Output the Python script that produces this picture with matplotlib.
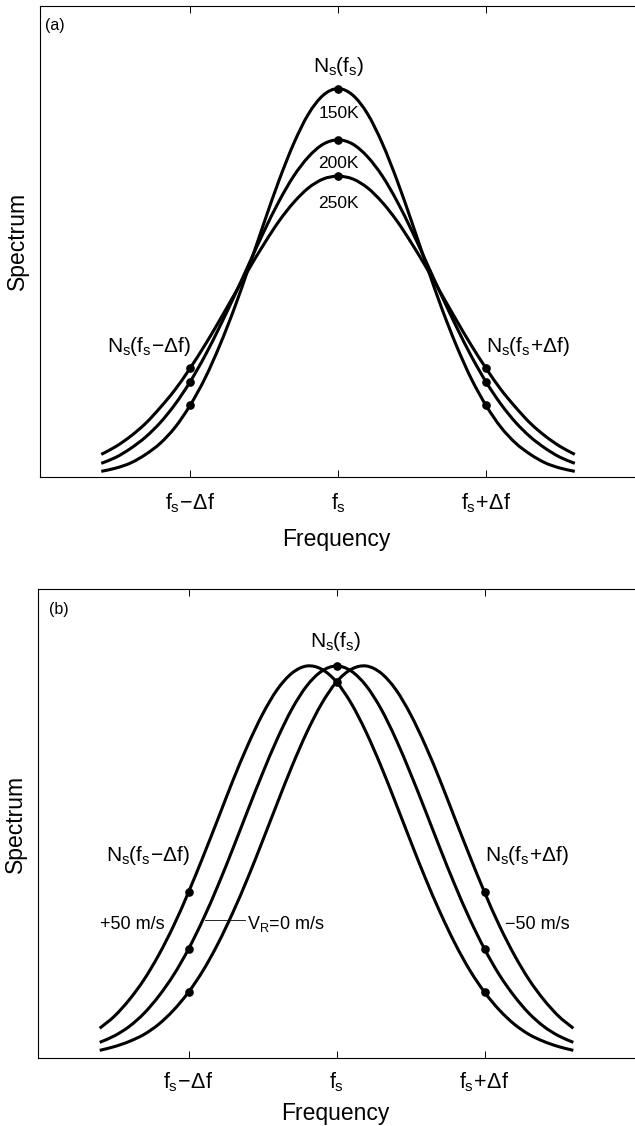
import numpy as np
import matplotlib
matplotlib.use("Agg")
import matplotlib.pyplot as plt
from matplotlib.path import Path
from matplotlib.patches import PathPatch

plt.rcParams['font.family'] = ['Liberation Sans', 'DejaVu Sans']
plt.rcParams['mathtext.fontset'] = 'custom'
plt.rcParams['mathtext.rm'] = 'Liberation Sans'
plt.rcParams['mathtext.it'] = 'Liberation Sans'
plt.rcParams['mathtext.bf'] = 'Liberation Sans:bold'

# frequency axis, in units of delta f around f_s
freq = [-1.6, -1.5, -1.4, -1.3, -1.2, -1.1, -1.0, -0.9, -0.8, -0.7, -0.6,
        -0.5, -0.4, -0.3, -0.2, -0.1, 0.0, 0.1, 0.2, 0.3, 0.4, 0.5,
        0.6, 0.7, 0.8, 0.9, 1.0, 1.1, 1.2, 1.3, 1.4, 1.5, 1.6]

# (a) spectra for three temperatures (axis height = 1)
spec_150K = [0.011, 0.018, 0.029, 0.047, 0.071, 0.105, 0.151, 0.208, 0.278, 0.358, 0.447,
             0.539, 0.628, 0.707, 0.770, 0.810, 0.824, 0.810, 0.770, 0.707, 0.628, 0.539,
             0.447, 0.358, 0.278, 0.208, 0.151, 0.105, 0.071, 0.047, 0.029, 0.018, 0.011]
spec_200K = [0.028, 0.041, 0.060, 0.084, 0.115, 0.154, 0.201, 0.256, 0.318, 0.384, 0.453,
             0.521, 0.584, 0.638, 0.679, 0.706, 0.715, 0.706, 0.679, 0.638, 0.584, 0.521,
             0.453, 0.384, 0.318, 0.256, 0.201, 0.154, 0.115, 0.084, 0.060, 0.041, 0.028]
spec_250K = [0.047, 0.064, 0.086, 0.113, 0.147, 0.185, 0.230, 0.279, 0.332, 0.387, 0.442,
             0.494, 0.542, 0.582, 0.613, 0.632, 0.638, 0.632, 0.613, 0.582, 0.542, 0.494,
             0.442, 0.387, 0.332, 0.279, 0.230, 0.185, 0.147, 0.113, 0.086, 0.064, 0.047]
temp_labels = ["150K", "200K", "250K"]

# (b) spectra for three line-of-sight velocities
spec_p50 = [0.064, 0.090, 0.125, 0.168, 0.221, 0.283, 0.354, 0.431, 0.511, 0.592, 0.667,
            0.733, 0.786, 0.821, 0.836, 0.829, 0.802, 0.756, 0.695, 0.623, 0.544, 0.463,
            0.384, 0.311, 0.245, 0.188, 0.141, 0.103, 0.073, 0.051, 0.036, 0.025, 0.017]
spec_0 = [0.034, 0.048, 0.068, 0.096, 0.133, 0.178, 0.233, 0.297, 0.369, 0.447, 0.528,
          0.607, 0.681, 0.745, 0.794, 0.825, 0.836, 0.825, 0.794, 0.745, 0.681, 0.607,
          0.528, 0.447, 0.369, 0.297, 0.233, 0.178, 0.133, 0.096, 0.068, 0.048, 0.034]
spec_m50 = [0.017, 0.025, 0.036, 0.051, 0.073, 0.103, 0.141, 0.188, 0.245, 0.311, 0.384,
            0.463, 0.544, 0.623, 0.695, 0.756, 0.802, 0.829, 0.836, 0.821, 0.786, 0.733,
            0.667, 0.592, 0.511, 0.431, 0.354, 0.283, 0.221, 0.168, 0.125, 0.090, 0.064]

tick_pos = [-1.0, 0.0, 1.0]
tick_labels = [r"$f_s\!-\!\Delta f$", r"$f_s$", r"$f_s\!+\!\Delta f$"]
dot_freqs = [-1.0, 0.0, 1.0]

LW = 2.2
MS = 5.2
fig = plt.figure(figsize=(6.35, 11.26), dpi=100)


def smooth_line(ax, x, y):
    # curve through the read points, drawn as bezier segments (catmull-rom tangents)
    x = np.asarray(x, float)
    y = np.asarray(y, float)
    pts = np.column_stack([x, y])
    ext = np.vstack([2 * pts[0] - pts[1], pts, 2 * pts[-1] - pts[-2]])
    verts = [pts[0]]
    codes = [Path.MOVETO]
    for i in range(len(pts) - 1):
        p0, p1, p2, p3 = ext[i], ext[i + 1], ext[i + 2], ext[i + 3]
        verts += [p1 + (p2 - p0) / 6, p2 - (p3 - p1) / 6, p2]
        codes += [Path.CURVE4] * 3
    ax.add_patch(PathPatch(Path(verts, codes), fill=False, edgecolor='black',
                           lw=LW, capstyle='butt', joinstyle='round'))


def setup_axes(ax, xlim, pad, xlabel_y):
    ax.set_xlim(*xlim)
    ax.set_ylim(0, 1)
    ax.set_xticks(tick_pos)
    ax.set_xticklabels(tick_labels, fontsize=15.5)
    ax.set_yticks([])
    ax.tick_params(axis='x', direction='in', top=True, length=5, width=0.7, pad=pad)
    for s in ax.spines.values():
        s.set_linewidth(0.8)
    ax.set_xlabel("Frequency", fontsize=16.5)
    ax.xaxis.set_label_coords(0.495, xlabel_y)
    ax.set_ylabel("Spectrum", fontsize=16.5)
    ax.yaxis.set_label_coords(-0.018, 0.5)


def dots(ax, x, y, which=dot_freqs):
    idx = [x.index(f) for f in which]
    ax.plot([x[i] for i in idx], [y[i] for i in idx], 'o', color='black', ms=MS)


# ---------------- panel (a)
ax1 = fig.add_axes([40 / 635, 0.5768, 598 / 635, 0.4181])
for spec in [spec_150K, spec_200K, spec_250K]:
    smooth_line(ax1, freq, spec)
    dots(ax1, freq, spec)
setup_axes(ax1, (-2.014, 2.027), 11, -0.109)

ax1.text(0.008, 0.973, "(a)", transform=ax1.transAxes, fontsize=11.5, va='top', ha='left')
ax1.text(0.005, 0.860, r"$N_s(f_s)$", fontsize=15, ha='center', va='baseline')
for lab, yb in zip(temp_labels, [0.761, 0.655, 0.571]):
    ax1.text(0.005, yb, lab, fontsize=12.5, ha='center', va='baseline')
ax1.text(-0.99, 0.264, r"$N_s(f_s\!-\!\Delta f)$", fontsize=15, ha='right', va='baseline')
ax1.text(1.0, 0.264, r"$N_s(f_s\!+\!\Delta f)$", fontsize=15, ha='left', va='baseline')

# ---------------- panel (b)
ax2 = fig.add_axes([38 / 635, 0.0601, 600 / 635, 0.4168])
for spec in [spec_p50, spec_0, spec_m50]:
    smooth_line(ax2, freq, spec)
dots(ax2, freq, spec_p50)
dots(ax2, freq, spec_0)
dots(ax2, freq, spec_m50, [-1.0, 1.0])
setup_axes(ax2, (-2.017, 2.037), 9, -0.092)

ax2.text(0.018, 0.973, "(b)", transform=ax2.transAxes, fontsize=11.5, va='top', ha='left')
ax2.text(-0.005, 0.877, r"$N_s(f_s)$", fontsize=15, ha='center', va='baseline')
ax2.text(-0.99, 0.421, r"$N_s(f_s\!-\!\Delta f)$", fontsize=15, ha='right', va='baseline')
ax2.text(1.0, 0.421, r"$N_s(f_s\!+\!\Delta f)$", fontsize=15, ha='left', va='baseline')
ax2.text(-1.16, 0.275, "+50 m/s", fontsize=13, ha='right', va='baseline')
ax2.text(1.135, 0.275, "\u221250 m/s", fontsize=13, ha='left', va='baseline')
ax2.text(-0.606, 0.275, r"$V_R$=0 m/s", fontsize=13, ha='left', va='baseline')
ax2.plot([-0.887, -0.617], [0.294, 0.294], color='black', lw=0.6)

fig.savefig("out.png", dpi=100)
